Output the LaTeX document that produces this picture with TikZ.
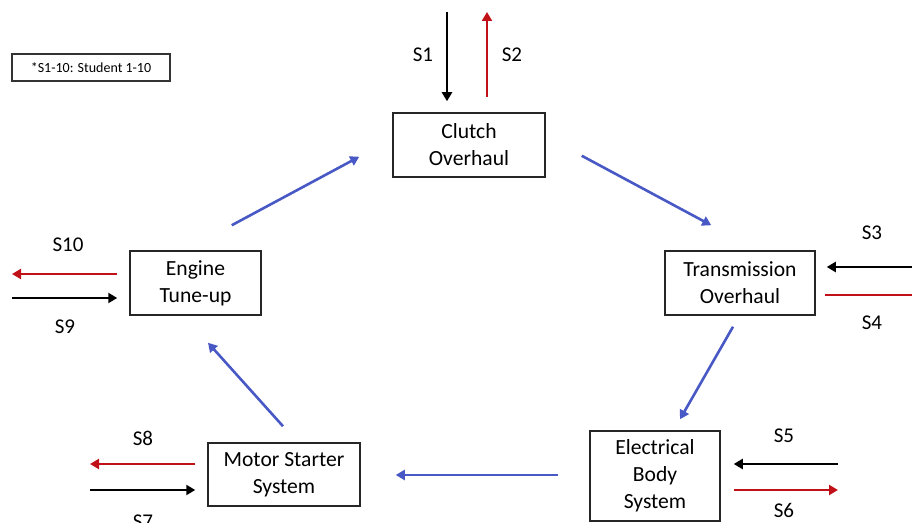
\documentclass[tikz,border=0pt]{standalone}
\usepackage{fontspec}
\setmainfont{Carlito}
\usetikzlibrary{arrows.meta,calc}

\definecolor{flowblue}{RGB}{72,88,196}
\definecolor{outred}{RGB}{192,16,24}

\tikzset{
	task/.style={draw=black!85, line width=0.75pt, align=center, inner sep=0pt,
		font=\fontsize{10.8}{13.5}\selectfont},
	flow/.style={->, flowblue, line width=1.3pt},
	inarr/.style={->, black, line width=1.1pt},
	outarr/.style={->, outred, line width=1.1pt},
	slabel/.style={font=\fontsize{10.5}{12}\selectfont}
}

\begin{document}
\begin{tikzpicture}[x=0.5pt, y=-0.5pt, >={Triangle[length=4.5pt,width=5pt]}]   %% pixel grid
	\useasboundingbox (0,0) rectangle (912,523);
	\node [draw=black!80, line width=0.7pt, minimum width=79pt, minimum height=13.5pt, inner sep=0pt,
		font=\fontsize{7}{8}\selectfont] (legend) at (91,67.5) {*S1-10: Student 1-10};

	\node [task, minimum width=76pt, minimum height=32pt] (clutch) at (469,145) {Clutch\\Overhaul};
	\node [task, minimum width=75pt, minimum height=32pt] (trans) at (740,283) {Transmission\\Overhaul};
	\node [task, minimum width=65pt, minimum height=45pt] (elec) at (655,476) {Electrical\\Body\\System};
	\node [task, minimum width=76pt, minimum height=31.5pt] (motor) at (284,474.5) {Motor Starter\\System};
	\node [task, minimum width=65.5pt, minimum height=32pt] (engine) at (195.5,283) {Engine\\Tune-up};

	% cycle of tasks
	\draw [flow] ($(engine.north east)+(-30,-25)$)--($(clutch.south west)+(-33,-21)$);
	\draw [flow] ($(clutch.south east)+(36,-22)$)--($(trans.north west)+(47,-25)$);
	\draw [flow] ($(trans.south)+(-7,11)$)--($(elec.north)+(25,-11)$);
	\draw [flow] ($(elec.west)+(-31,-1)$)--($(motor.east)+(35,0.5)$);
	\draw [flow] ($(motor.north)+(-1,-16)$)--($(engine.south)+(12.5,27)$);

	% students in and out
	\coordinate (s1) at (447,12);
	\coordinate (s2) at (487,12);
	\draw [inarr] (s1)--(s1 |- clutch.north) [shorten >=5.5pt];
	\draw [outarr] (s2 |- clutch.north) [shorten <=7.5pt]--(s2);
	\node [slabel] (l1) at (423,55) {S1};
	\node [slabel] (l2) at (512,55) {S2};

	\coordinate (s3) at (912,267);
	\coordinate (s4) at (912,295);
	\draw [inarr] (s3)--(s3 -| trans.east) [shorten >=5.5pt];
	\draw [outred, line width=1.1pt] (s4 -| trans.east) [shorten <=4.5pt]--(s4);
	\node [slabel] (l3) at (872,233) {S3};
	\node [slabel] (l4) at (872,323) {S4};

	\coordinate (s5) at (838,464);
	\coordinate (s6) at (838,490);
	\draw [inarr] (s5)--(s5 -| elec.east) [shorten >=6.5pt];
	\draw [outarr] (s6 -| elec.east) [shorten <=6.5pt]--(s6);
	\node [slabel] (l5) at (784,436) {S5};
	\node [slabel] (l6) at (784,510) {S6};

	\coordinate (s7) at (90,490);
	\coordinate (s8) at (90,464);
	\draw [inarr] (s7)--(s7 -| motor.west) [shorten >=6pt];
	\draw [outarr] (s8 -| motor.west) [shorten <=6pt]--(s8);
	\node [slabel] (l7) at (143,522) {S7};
	\node [slabel] (l8) at (143,438) {S8};

	\coordinate (s9) at (12,298);
	\coordinate (s10) at (12,274);
	\draw [inarr] (s9)--(s9 -| engine.west) [shorten >=6pt];
	\draw [outarr] (s10 -| engine.west) [shorten <=6pt]--(s10);
	\node [slabel] (l9) at (65,327) {S9};
	\node [slabel] (l10) at (68,245) {S10};
\end{tikzpicture}
\end{document}
